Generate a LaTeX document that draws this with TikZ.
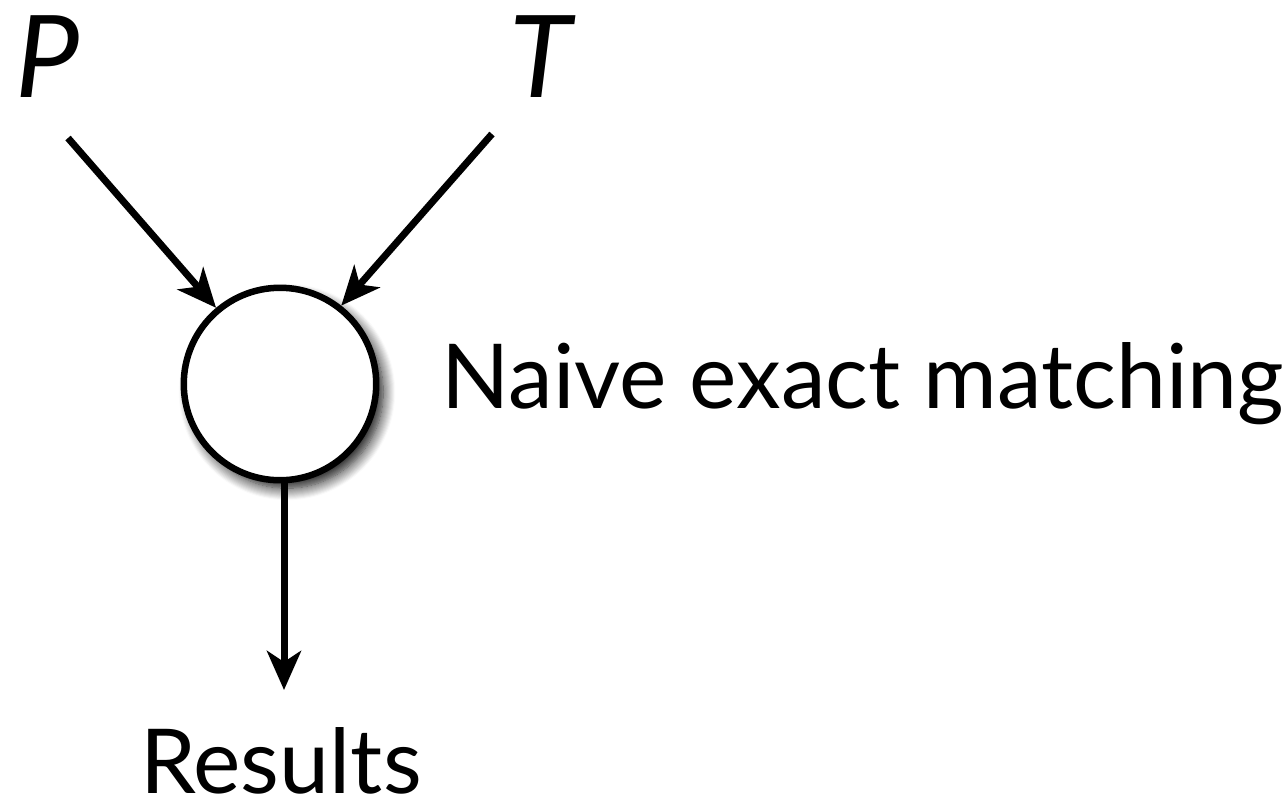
\documentclass[tikz,border=0pt]{standalone}
\usepackage{fontspec}
\setmainfont{Lato}
\usetikzlibrary{arrows.meta,shadows.blur}
\begin{document}
\begin{tikzpicture}[x=0.02cm,y=-0.02cm,
  conn/.style={line width=0.14cm, -{Stealth[length=0.78cm,width=0.68cm,inset=0.22cm]}},
  lbl/.style={inner sep=0pt, text depth=0pt, font=\fontsize{51}{60}\selectfont},
  var/.style={inner sep=0pt, text depth=0pt, font=\fontsize{65}{76}\selectfont\itshape}]
\useasboundingbox (0,0) rectangle (1288,802);
\node[circle, draw, line width=0.13cm, fill=white, minimum size=3.85cm, inner sep=0pt,
  blur shadow={shadow xshift=0.14cm, shadow yshift=-0.16cm, shadow blur radius=0.24cm, shadow blur steps=12, shadow opacity=95}] (m) at (280,384) {};
\node[var, anchor=base] (p) at (48,97) {P};
\node[var, anchor=base] (t) at (541,97) {T};
\coordinate (ps) at (68,138);
\coordinate (ts) at (492,134);
\node[lbl, anchor=base west] (lab) at (441,408) {Naive exact matching};
\node[lbl, anchor=base] (r) at (281,793) {Results};
\coordinate (rs) at (284,690);
\draw[conn] (ps) -- (m.130);
\draw[conn] (ts) -- (m.52);
\draw[conn] (m.south -| rs) -- (rs);
\end{tikzpicture}
\end{document}
